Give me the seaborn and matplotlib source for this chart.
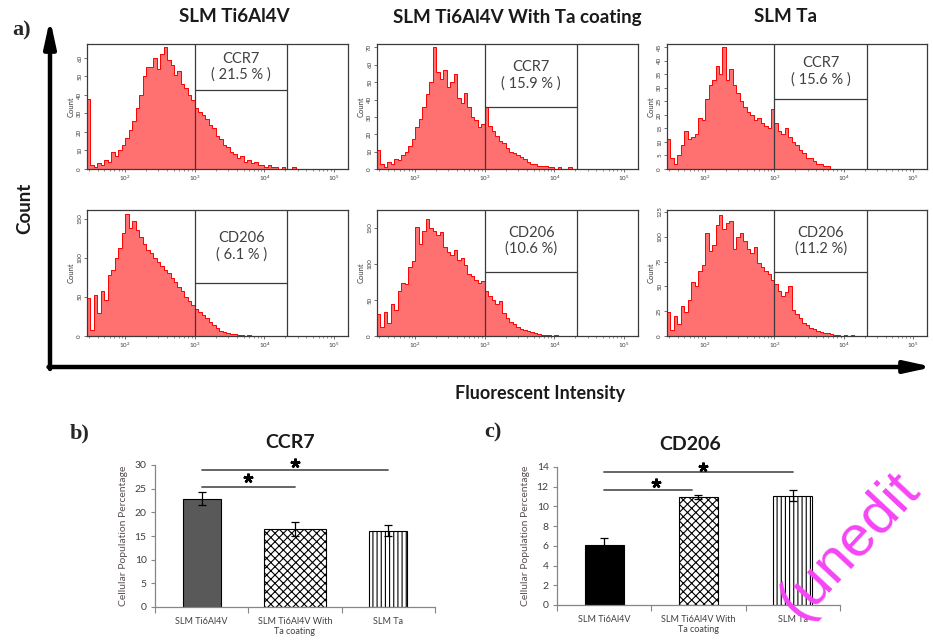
import numpy as np
import pandas as pd
import matplotlib
matplotlib.use("Agg")
import matplotlib.pyplot as plt
import seaborn as sns
from matplotlib.patches import FancyArrowPatch
from matplotlib.ticker import MultipleLocator, FixedLocator, LogLocator, NullFormatter

# ---------------- data ----------------
materials = ["SLM Ti6Al4V", "SLM Ti6Al4V With Ta coating", "SLM Ta"]
markers = ["CCR7", "CD206"]

# histogram bins (log10 of fluorescence), counts read per bin
hist_log_start = 1.45
hist_log_step = 0.05

ccr7_ti = [38, 2, 1, 3, 2, 5, 4, 9, 7, 10,
           13, 17, 21, 26, 33, 40, 50, 55, 55, 60,
           54, 62, 66, 59, 56, 51, 53, 46, 44, 40,
           37, 33, 31, 29, 27, 24, 22, 18, 16, 13,
           12, 9, 8, 6, 7, 4, 5, 3, 4, 2,
           2, 1, 2, 1, 1, 0, 1, 0, 0, 1,
           0, 0]
ccr7_coat = [11, 3, 1, 4, 3, 6, 5, 8, 10, 13,
             17, 24, 29, 36, 43, 50, 70, 56, 52, 57,
             47, 50, 55, 41, 38, 44, 36, 30, 28, 24,
             26, 36, 25, 22, 19, 16, 15, 12, 10, 9,
             8, 7, 6, 4, 3, 3, 2, 2, 2, 1,
             1, 0, 1, 0, 0, 1, 0, 0, 0, 0,
             0, 0]
ccr7_ta = [11, 4, 2, 5, 9, 14, 11, 12, 13, 19,
           18, 26, 31, 33, 38, 35, 45, 33, 37, 31,
           28, 25, 23, 21, 20, 18, 19, 17, 16, 15,
           22, 17, 14, 13, 15, 12, 10, 9, 7, 6,
           4, 4, 3, 2, 2, 1, 1, 0, 0, 0,
           0, 0, 0, 0, 0, 0, 0, 0, 0, 0,
           0, 0]
cd206_ti = [48, 8, 52, 30, 58, 46, 78, 84, 100, 112,
            132, 156, 138, 147, 135, 126, 118, 110, 106, 100,
            95, 89, 84, 80, 74, 69, 62, 57, 50, 45,
            39, 34, 31, 27, 23, 18, 14, 10, 7, 5,
            4, 3, 2, 1, 1, 0, 1, 0, 0, 0,
            0, 0, 0, 0, 0, 0, 0, 0, 0, 0,
            0, 0]
cd206_coat = [30, 12, 34, 18, 44, 36, 62, 74, 72, 96,
              104, 152, 128, 146, 162, 150, 146, 140, 145, 124,
              116, 112, 120, 106, 108, 98, 86, 84, 78, 74,
              76, 62, 56, 50, 44, 48, 32, 25, 20, 17,
              13, 10, 8, 7, 5, 4, 3, 2, 1, 1,
              0, 1, 0, 0, 0, 0, 0, 0, 0, 0,
              0, 0]
cd206_ta = [24, 6, 20, 12, 30, 24, 36, 54, 50, 66,
            72, 104, 86, 92, 112, 122, 108, 114, 116, 88,
            100, 104, 96, 88, 84, 90, 74, 70, 66, 62,
            56, 52, 45, 40, 44, 50, 26, 22, 18, 13,
            11, 8, 7, 5, 4, 3, 3, 2, 1, 1,
            0, 1, 0, 1, 0, 0, 0, 0, 0, 0,
            0, 0]

ccr7_pct = ["( 21.5 % )", "( 15.9 % )", "( 15.6 % )"]
cd206_pct = ["( 6.1 % )", "(10.6 %)", "(11.2 %)"]
gate_low = 1e3
gate_high = 10 ** 4.33
ccr7_gate_split = [42.5, 36, 26]
cd206_gate_split = [68, 89, 65]
ccr7_ymax = [67.5, 72, 46.2]
cd206_ymax = [161, 175, 127]
ccr7_ystep = [10, 10, 5]
cd206_ystep = [50, 50, 25]

# bar charts
bar_categories = ["SLM Ti6Al4V", "SLM Ti6Al4V With\nTa coating", "SLM Ta"]
ccr7_means = [22.9, 16.4, 16.1]
ccr7_err = [1.4, 1.5, 1.2]
cd206_means = [6.05, 11.0, 11.1]
cd206_err = [0.75, 0.2, 0.55]
# significance: (x_from, x_to, y_line), stars: (x, y)
ccr7_sig_lines = [(0, 1, 25.4), (0, 2, 28.9)]
ccr7_stars = [(0.5, 27.2), (1.0, 30.4)]
cd206_sig_lines = [(0, 0.93, 11.7), (0, 2, 13.5)]
cd206_stars = [(0.55, 12.35), (1.05, 14.05)]

watermark = "(unedit"

# ---------------- style ----------------
sns.set_style("white")
plt.rcParams["font.family"] = ["Lato", "DejaVu Sans"]
plt.rcParams["hatch.linewidth"] = 0.8
plt.rcParams["mathtext.default"] = "regular"

W, H = 933, 643
fig = plt.figure(figsize=(W / 100, H / 100), dpi=100)


def fx(px):
    return px / W


def fy(py):
    return 1 - py / H


def px_axes(left, top, right, bottom):
    return fig.add_axes([fx(left), fy(bottom), (right - left) / W, (bottom - top) / H])


FRAME = "#3a3a3a"


def draw_hist(ax, counts, ymax, ystep, split, marker, pct):
    n = len(counts)
    centers = hist_log_start + hist_log_step * (np.arange(n) + 0.5)
    df = pd.DataFrame({"intensity": 10 ** centers, "count": counts})
    sns.histplot(data=df, x="intensity", weights="count", bins=n,
                 binrange=(hist_log_start, hist_log_start + n * hist_log_step),
                 log_scale=True, element="step", fill=True, color="#ff0000",
                 alpha=0.56, linewidth=0.7, ax=ax)
    ax.set_xlim(10 ** 1.45, 10 ** 5.2)
    ax.set_ylim(0, ymax)
    ax.yaxis.set_major_locator(MultipleLocator(ystep))
    ax.xaxis.set_major_locator(LogLocator(base=10, numticks=10))
    ax.xaxis.set_minor_locator(LogLocator(base=10, subs=np.arange(2, 10), numticks=20))
    ax.xaxis.set_minor_formatter(NullFormatter())
    ax.tick_params(axis="both", which="major", labelsize=4.5, length=2, width=0.5,
                   colors=FRAME, pad=1.5, direction="out", bottom=True, left=True)
    ax.tick_params(axis="x", which="minor", length=1.2, width=0.4, colors=FRAME, bottom=True)
    ax.tick_params(axis="y", labelrotation=90)
    for lbl in ax.get_yticklabels():
        lbl.set_va("center")
    ax.set_xlabel("")
    ax.set_ylabel("Count", fontsize=5.5, labelpad=2, color=FRAME)
    for s in ax.spines.values():
        s.set_visible(True)
        s.set_color(FRAME)
        s.set_linewidth(0.9)
    ax.axvline(gate_low, color=FRAME, lw=0.9)
    ax.axvline(gate_high, color=FRAME, lw=0.9)
    ax.plot([gate_low, gate_high], [split, split], color=FRAME, lw=0.9)
    xc = 10 ** ((np.log10(gate_low) + np.log10(gate_high)) / 2)
    ax.text(xc, (split + ymax) / 2, f"{marker}\n{pct}", ha="center", va="center",
            fontsize=10.5, color="#404040", linespacing=1.15)


col_lr = [(87, 348), (377, 638), (667, 927)]
row_tb = [(44, 169), (210, 336)]
ccr7_counts = [ccr7_ti, ccr7_coat, ccr7_ta]
cd206_counts = [cd206_ti, cd206_coat, cd206_ta]

for j in range(3):
    l, r = col_lr[j]
    ax = px_axes(l, row_tb[0][0], r, row_tb[0][1])
    draw_hist(ax, ccr7_counts[j], ccr7_ymax[j], ccr7_ystep[j], ccr7_gate_split[j],
              markers[0], ccr7_pct[j])
    ax = px_axes(l, row_tb[1][0], r, row_tb[1][1])
    draw_hist(ax, cd206_counts[j], cd206_ymax[j], cd206_ystep[j], cd206_gate_split[j],
              markers[1], cd206_pct[j])

# column titles
for txt, cx in zip(materials, [234, 517, 785]):
    fig.text(fx(cx), fy(17), txt, ha="center", va="center", fontsize=13.5,
             fontweight="bold", color="#1a1a1a")

# big axes arrows
arr_v = FancyArrowPatch((fx(50), fy(369)), (fx(50), fy(19)), transform=fig.transFigure,
                        arrowstyle="-|>,head_length=16,head_width=3.5", mutation_scale=1,
                        lw=3.2, color="black", shrinkA=0, shrinkB=0)
arr_h = FancyArrowPatch((fx(48.5), fy(367)), (fx(933), fy(367)), transform=fig.transFigure,
                        arrowstyle="-|>,head_length=16,head_width=3.5", mutation_scale=1,
                        lw=3.2, color="black", shrinkA=0, shrinkB=0)
fig.add_artist(arr_v)
fig.add_artist(arr_h)

fig.text(fx(25), fy(208), "Count", rotation=90, ha="center", va="center",
         fontsize=13.5, fontweight="bold", color="#1a1a1a")
fig.text(fx(540), fy(393), "Fluorescent Intensity", ha="center", va="center",
         fontsize=13, fontweight="bold", color="#1a1a1a")
fig.text(fx(22), fy(30), "a)", ha="center", va="center", fontsize=16,
         fontweight="bold", family="Liberation Serif")
fig.text(fx(80), fy(433), "b)", ha="center", va="center", fontsize=16,
         fontweight="bold", family="Liberation Serif")
fig.text(fx(493), fy(432), "c)", ha="center", va="center", fontsize=16,
         fontweight="bold", family="Liberation Serif")

GRAY = "#868686"
TXT = "#404040"


def draw_bars(ax, means, errs, first_color, sig_lines, stars, ymax, ystep, wide_second):
    df = pd.DataFrame({"material": bar_categories, "value": means})
    sns.barplot(data=df, x="material", y="value", order=bar_categories, width=0.41,
                color="white", saturation=1, edgecolor="black", linewidth=0.8,
                errorbar=None, ax=ax)
    p = ax.patches
    p[0].set_facecolor(first_color)
    p[1].set_hatch("xxxx")
    p[2].set_hatch("||||")
    if wide_second:
        cx = p[1].get_x() + p[1].get_width() / 2
        p[1].set_width(0.67)
        p[1].set_x(cx - 0.335)
    ax.errorbar(np.arange(len(means)), means, yerr=errs, fmt="none", ecolor="black",
                elinewidth=0.9, capsize=3, capthick=0.9, zorder=5)
    for x0, x1, yl in sig_lines:
        ax.plot([x0, x1], [yl, yl], color="#595959", lw=1.3, clip_on=False)
    for xs, ys in stars:
        ax.plot([xs], [ys], marker=(5, 2, 0), markersize=7, mew=1.8, color="black",
                clip_on=False)
    ax.set_xlim(-0.5, 2.5)
    ax.set_ylim(0, ymax)
    ax.yaxis.set_major_locator(MultipleLocator(ystep))
    ax.xaxis.set_minor_locator(FixedLocator([-0.5, 0.5, 1.5, 2.5]))
    ax.tick_params(axis="x", which="major", length=0, labelsize=6.5, colors=TXT, pad=7)
    ax.tick_params(axis="x", which="minor", length=4, width=0.8, color=GRAY,
                   direction="out", bottom=True)
    ax.tick_params(axis="y", which="major", length=3, width=0.8, color=GRAY,
                   labelsize=7.5, labelcolor=TXT, direction="out", pad=3, left=True)
    for s in ["top", "right"]:
        ax.spines[s].set_visible(False)
    for s in ["left", "bottom"]:
        ax.spines[s].set_color(GRAY)
        ax.spines[s].set_linewidth(0.9)
    ax.set_xlabel("")
    ax.set_ylabel("Cellular Population Percentage", fontsize=7.5, color="#5a5050",
                  labelpad=5)


axb = px_axes(155, 465, 435, 607)
draw_bars(axb, ccr7_means, ccr7_err, "#595959", ccr7_sig_lines, ccr7_stars, 30, 5, True)
axc = px_axes(557, 467, 840, 605)
draw_bars(axc, cd206_means, cd206_err, "#000000", cd206_sig_lines, cd206_stars, 14, 2, False)

fig.text(fx(290), fy(443), markers[0], ha="center", va="center", fontsize=14,
         fontweight="bold", color="#1a1a1a")
fig.text(fx(690), fy(444), markers[1], ha="center", va="center", fontsize=14,
         fontweight="bold", color="#1a1a1a")

# watermark (visible portion)
fig.text(fx(800), fy(621), watermark, rotation=47, rotation_mode="anchor",
         ha="left", va="baseline", fontsize=42, color="#f545f5",
         family="Liberation Sans", zorder=20)

fig.savefig("out.png", dpi=100)
